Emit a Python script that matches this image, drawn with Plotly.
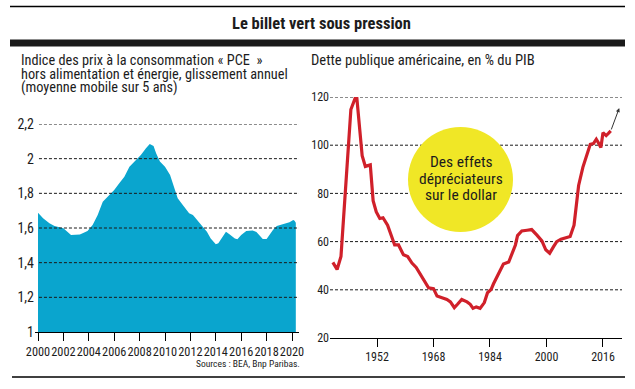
import plotly.graph_objects as go

# ---------------- Data ----------------
pce_years = [2000.0, 2000.4, 2000.9, 2001.3, 2002.0, 2002.4, 2002.6, 2003.3, 2003.9, 2004.3,
             2004.7, 2005.1, 2005.5, 2006.0, 2006.4, 2006.8, 2007.2, 2007.6, 2008.1, 2008.5,
             2008.8, 2009.1, 2009.3, 2009.6, 2010.0, 2010.4, 2010.6, 2011.0, 2011.4, 2011.9,
             2012.2, 2012.5, 2012.8, 2013.3, 2013.6, 2014.0, 2014.2, 2014.5, 2014.8, 2015.1,
             2015.5, 2015.7, 2016.0, 2016.4, 2016.9, 2017.2, 2017.5, 2017.7, 2018.0, 2018.2,
             2018.5, 2018.8, 2019.0, 2019.4, 2019.8, 2020.1, 2020.2, 2020.3]
pce_values = [1.688, 1.656, 1.627, 1.612, 1.598, 1.573, 1.560, 1.563, 1.583, 1.617,
              1.675, 1.752, 1.780, 1.819, 1.858, 1.896, 1.954, 1.983, 2.021, 2.060,
              2.085, 2.073, 2.031, 1.983, 1.954, 1.906, 1.858, 1.771, 1.733, 1.685,
              1.675, 1.650, 1.627, 1.579, 1.540, 1.506, 1.512, 1.546, 1.579, 1.563,
              1.540, 1.535, 1.560, 1.583, 1.585, 1.577, 1.550, 1.537, 1.537, 1.560,
              1.588, 1.612, 1.617, 1.627, 1.633, 1.646, 1.642, 1.631]

debt_years = [1939.5, 1940.7, 1941.8, 1943.2, 1944.6, 1946.2, 1947.8, 1948.7, 1950.1, 1950.9,
              1951.8, 1952.8, 1953.7, 1955.0, 1956.2, 1957.0, 1958.1, 1959.5, 1960.7, 1961.9,
              1963.1, 1964.3, 1965.7, 1966.6, 1968.0, 1969.0, 1970.4, 1971.8, 1972.8, 1973.9,
              1974.8, 1976.0, 1977.5, 1978.4, 1979.2, 1980.1, 1981.2, 1982.4, 1983.3, 1984.3,
              1985.0, 1986.2, 1987.8, 1989.3, 1990.2, 1991.2, 1991.8, 1993.0, 1994.5, 1995.8,
              1997.3, 1998.7, 1999.8, 2000.9, 2002.0, 2002.9, 2004.1, 2005.3, 2006.7, 2007.8,
              2009.1, 2010.3, 2011.4, 2012.4, 2013.3, 2014.1, 2014.7, 2015.4, 2016.0, 2016.9,
              2017.6, 2018.2]
debt_values = [51.4, 48.4, 53.8, 86.0, 114.8, 121.0, 95.6, 91.2, 91.8, 77.0,
               72.3, 69.6, 69.9, 66.8, 61.4, 58.6, 58.6, 54.5, 53.8, 51.1,
               49.3, 46.3, 42.9, 40.8, 40.5, 37.4, 36.7, 36.0, 35.0, 32.6,
               34.0, 36.0, 35.0, 34.0, 32.3, 32.9, 32.3, 34.7, 38.8, 40.1,
               42.5, 46.3, 50.7, 51.5, 54.5, 58.6, 62.5, 64.4, 64.7, 65.0,
               62.7, 60.3, 56.6, 55.2, 57.9, 60.0, 61.0, 61.4, 62.1, 66.8,
               83.3, 90.8, 96.3, 100.4, 100.7, 102.5, 101.0, 99.0, 105.2, 104.0,
               105.0, 105.9]
debt_projection_end = (2020.6, 115.4)

pce_tickvals = [1, 1.2, 1.4, 1.6, 1.8, 2, 2.2]
pce_ticktext = ["1", "1,2", "1,4", "1,6", "1,8", "2", "2,2"]
pce_xticks = list(range(2000, 2021, 2))
debt_yticks = [20, 40, 60, 80, 100, 120]
debt_xticks = [1952, 1968, 1984, 2000, 2016]

title = "<b>Le billet vert sous pression</b>"
left_sub_lines = ["Indice des prix à la consommation « PCE  »",
                  "hors alimentation et énergie, glissement annuel",
                  "(moyenne mobile sur 5 ans)"]
right_sub = "Dette publique américaine, en % du PIB"
bubble_lines = ["Des effets", "dépréciateurs", "sur le dollar"]
source = "Sources : BEA, Bnp Paribas."

# ---------------- Layout helpers ----------------
W, H = 635, 389
def px(x): return x / W
def py(y): return 1 - y / H

FONT = "Liberation Sans Narrow, Roboto Condensed, Roboto, sans-serif"
TXT = "#1c1c1c"
BLUE = "#0AA5CE"
RED = "#D0202A"
YELLOW = "#F0E726"

fig = go.Figure()
fig.add_trace(go.Scatter(x=pce_years, y=pce_values, mode="lines", fill="tozeroy",
                         fillcolor=BLUE, line=dict(width=0, color=BLUE),
                         xaxis="x", yaxis="y", hoverinfo="skip"))
fig.add_trace(go.Scatter(x=debt_years, y=debt_values, mode="lines",
                         line=dict(width=3.2, color=RED),
                         xaxis="x2", yaxis="y2", hoverinfo="skip"))

shapes = []
for v in pce_tickvals[1:]:
    shapes.append(dict(type="line", xref="x domain", yref="y", x0=0.015, x1=1, y0=v, y1=v,
                       line=dict(color="#1a1a1a", width=1, dash="3px,2px"), layer="above"))
for v in debt_yticks[1:]:
    shapes.append(dict(type="line", xref="x2 domain", yref="y2", x0=0, x1=1, y0=v, y1=v,
                       line=dict(color="#1a1a1a", width=1, dash="3px,2px"), layer="below"))
shapes.append(dict(type="line", xref="paper", yref="paper", x0=px(10), x1=px(625), y0=py(6.5), y1=py(6.5),
                   line=dict(color="black", width=1.5)))
shapes.append(dict(type="rect", xref="paper", yref="paper", x0=px(10), x1=px(625), y0=py(39.5), y1=py(46.5),
                   fillcolor="#1a1a1a", line=dict(width=0)))
shapes.append(dict(type="line", xref="paper", yref="paper", x0=px(12), x1=px(625), y0=py(377), y1=py(377),
                   line=dict(color="black", width=1.5)))
shapes.append(dict(type="circle", xref="paper", yref="paper", x0=px(408), x1=px(513), y0=py(232), y1=py(127),
                   fillcolor=YELLOW, line=dict(width=0), layer="above"))

annotations = [
    dict(text=title, x=px(321), y=py(24), xref="paper", yref="paper", showarrow=False,
         font=dict(family=FONT, size=16.5, color=TXT), xanchor="center", yanchor="middle"),
    dict(text=right_sub, x=px(309), y=py(60), xref="paper", yref="paper", showarrow=False, align="left",
         font=dict(family=FONT, size=14.6, color=TXT), xanchor="left", yanchor="middle"),
    dict(text=source, x=px(302), y=py(363), xref="paper", yref="paper", showarrow=False,
         font=dict(family=FONT, size=9.5, color=TXT), xanchor="right", yanchor="middle"),
    dict(x=debt_projection_end[0], y=debt_projection_end[1], xref="x2", yref="y2",
         ax=debt_years[-1], ay=debt_values[-1], axref="x2", ayref="y2", text="",
         showarrow=True, arrowhead=2, arrowsize=0.8, arrowwidth=1, arrowcolor="#333"),
]
for t, yy in zip(left_sub_lines, [60, 73.5, 87]):
    annotations.append(dict(text=t, x=px(19), y=py(yy), xref="paper", yref="paper", showarrow=False,
                            font=dict(family=FONT, size=14.3, color=TXT),
                            xanchor="left", yanchor="middle"))
for t, yy in zip(bubble_lines, [162, 178.5, 195]):
    annotations.append(dict(text=t, x=px(461), y=py(yy), xref="paper", yref="paper", showarrow=False,
                            font=dict(family=FONT, size=15.5, color=TXT),
                            xanchor="center", yanchor="middle"))

fig.update_layout(
    width=W, height=H, margin=dict(l=0, r=0, t=0, b=0, autoexpand=False),
    paper_bgcolor="white", plot_bgcolor="white", showlegend=False,
    font=dict(family=FONT, color=TXT),
    shapes=shapes, annotations=annotations,
    xaxis=dict(domain=[px(35), px(299)], range=[2000 - 3 / 12.7, 2000 + (299 - 38) / 12.7],
               tickvals=pce_xticks, ticktext=[str(v) for v in pce_xticks], tickangle=0,
               ticks="outside", ticklen=8, tickcolor="black", tickwidth=1, automargin=False,
               showline=True, linecolor="black", linewidth=1, showgrid=False, zeroline=False,
               tickfont=dict(family=FONT, size=12.3, color=TXT), fixedrange=True),
    yaxis=dict(domain=[py(332), py(124)], range=[1, 2.2], automargin=False,
               tickvals=pce_tickvals, ticktext=pce_ticktext, ticks="",
               showline=False, showgrid=False, zeroline=False,
               tickfont=dict(family=FONT, size=14, color=TXT), fixedrange=True),
    xaxis2=dict(domain=[px(330), px(622)], range=[1952 - 47 / 3.531, 1952 + 245 / 3.531],
                anchor="y2", tickvals=debt_xticks, ticks="outside", ticklen=8, tickangle=0,
                tickcolor="black", tickwidth=1, showline=True, linecolor="black", linewidth=1,
                showgrid=False, zeroline=False, automargin=False,
                tickfont=dict(family=FONT, size=12, color=TXT), fixedrange=True),
    yaxis2=dict(domain=[py(338), py(97)], range=[20, 120], anchor="x2", automargin=False,
                tickvals=debt_yticks, ticks="", showline=False, showgrid=False, zeroline=False,
                tickfont=dict(family=FONT, size=12, color=TXT), fixedrange=True),
)

fig.write_html("out.html", config={"displayModeBar": False, "staticPlot": True},
               post_script="document.body.style.margin='0';document.body.style.overflow='hidden';")
